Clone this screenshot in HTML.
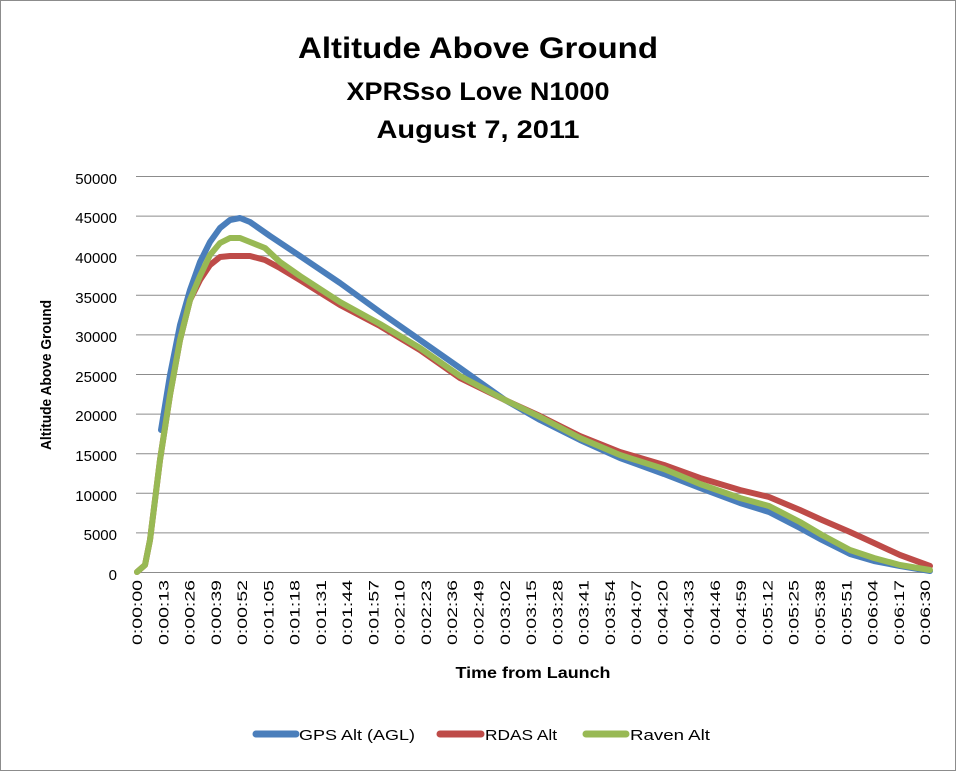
<!DOCTYPE html>
<html><head><meta charset="utf-8"><style>body{margin:0;background:#fff}svg{display:block}text{font-family:"Liberation Sans",sans-serif;fill:#000}</style></head><body>
<svg width="958" height="773" viewBox="0 0 958 773" xmlns="http://www.w3.org/2000/svg">
<rect x="0.5" y="0.5" width="955" height="770" fill="#fff" stroke="#8c8c8c"/>
<text x="478" y="58" font-size="30" font-weight="bold" text-anchor="middle" textLength="360" lengthAdjust="spacingAndGlyphs">Altitude Above Ground</text>
<text x="478" y="100" font-size="25" font-weight="bold" text-anchor="middle" textLength="263" lengthAdjust="spacingAndGlyphs">XPRSso Love N1000</text>
<text x="478" y="138" font-size="25" font-weight="bold" text-anchor="middle" textLength="203" lengthAdjust="spacingAndGlyphs">August 7, 2011</text>
<g stroke="#8c8c8c" stroke-width="1">
<line x1="136" y1="176.5" x2="929" y2="176.5"/><line x1="136" y1="216.1" x2="929" y2="216.1"/><line x1="136" y1="255.7" x2="929" y2="255.7"/><line x1="136" y1="295.3" x2="929" y2="295.3"/><line x1="136" y1="334.9" x2="929" y2="334.9"/><line x1="136" y1="374.5" x2="929" y2="374.5"/><line x1="136" y1="414.1" x2="929" y2="414.1"/><line x1="136" y1="453.7" x2="929" y2="453.7"/><line x1="136" y1="493.3" x2="929" y2="493.3"/><line x1="136" y1="532.9" x2="929" y2="532.9"/><line x1="136" y1="572.5" x2="929" y2="572.5"/>
</g>
<g font-size="15" text-anchor="end">
<text x="117" y="184">50000</text><text x="117" y="223">45000</text><text x="117" y="263">40000</text><text x="117" y="303">35000</text><text x="117" y="342">30000</text><text x="117" y="382">25000</text><text x="117" y="421">20000</text><text x="117" y="461">15000</text><text x="117" y="501">10000</text><text x="117" y="540">5000</text><text x="117" y="580">0</text>
</g>
<text transform="translate(51,375) rotate(-90)" font-size="15" font-weight="bold" text-anchor="middle" textLength="150" lengthAdjust="spacingAndGlyphs">Altitude Above Ground</text>
<g font-size="14" text-anchor="end">
<text transform="translate(142,580) rotate(-90)" textLength="65" lengthAdjust="spacingAndGlyphs">0:00:00</text>
<text transform="translate(168.3,580) rotate(-90)" textLength="65" lengthAdjust="spacingAndGlyphs">0:00:13</text>
<text transform="translate(194.5,580) rotate(-90)" textLength="65" lengthAdjust="spacingAndGlyphs">0:00:26</text>
<text transform="translate(220.8,580) rotate(-90)" textLength="65" lengthAdjust="spacingAndGlyphs">0:00:39</text>
<text transform="translate(247.1,580) rotate(-90)" textLength="65" lengthAdjust="spacingAndGlyphs">0:00:52</text>
<text transform="translate(273.4,580) rotate(-90)" textLength="65" lengthAdjust="spacingAndGlyphs">0:01:05</text>
<text transform="translate(299.6,580) rotate(-90)" textLength="65" lengthAdjust="spacingAndGlyphs">0:01:18</text>
<text transform="translate(325.9,580) rotate(-90)" textLength="65" lengthAdjust="spacingAndGlyphs">0:01:31</text>
<text transform="translate(352.2,580) rotate(-90)" textLength="65" lengthAdjust="spacingAndGlyphs">0:01:44</text>
<text transform="translate(378.4,580) rotate(-90)" textLength="65" lengthAdjust="spacingAndGlyphs">0:01:57</text>
<text transform="translate(404.7,580) rotate(-90)" textLength="65" lengthAdjust="spacingAndGlyphs">0:02:10</text>
<text transform="translate(431,580) rotate(-90)" textLength="65" lengthAdjust="spacingAndGlyphs">0:02:23</text>
<text transform="translate(457.2,580) rotate(-90)" textLength="65" lengthAdjust="spacingAndGlyphs">0:02:36</text>
<text transform="translate(483.5,580) rotate(-90)" textLength="65" lengthAdjust="spacingAndGlyphs">0:02:49</text>
<text transform="translate(509.8,580) rotate(-90)" textLength="65" lengthAdjust="spacingAndGlyphs">0:03:02</text>
<text transform="translate(536,580) rotate(-90)" textLength="65" lengthAdjust="spacingAndGlyphs">0:03:15</text>
<text transform="translate(562.3,580) rotate(-90)" textLength="65" lengthAdjust="spacingAndGlyphs">0:03:28</text>
<text transform="translate(588.6,580) rotate(-90)" textLength="65" lengthAdjust="spacingAndGlyphs">0:03:41</text>
<text transform="translate(614.9,580) rotate(-90)" textLength="65" lengthAdjust="spacingAndGlyphs">0:03:54</text>
<text transform="translate(641.1,580) rotate(-90)" textLength="65" lengthAdjust="spacingAndGlyphs">0:04:07</text>
<text transform="translate(667.4,580) rotate(-90)" textLength="65" lengthAdjust="spacingAndGlyphs">0:04:20</text>
<text transform="translate(693.7,580) rotate(-90)" textLength="65" lengthAdjust="spacingAndGlyphs">0:04:33</text>
<text transform="translate(719.9,580) rotate(-90)" textLength="65" lengthAdjust="spacingAndGlyphs">0:04:46</text>
<text transform="translate(746.2,580) rotate(-90)" textLength="65" lengthAdjust="spacingAndGlyphs">0:04:59</text>
<text transform="translate(772.5,580) rotate(-90)" textLength="65" lengthAdjust="spacingAndGlyphs">0:05:12</text>
<text transform="translate(798.7,580) rotate(-90)" textLength="65" lengthAdjust="spacingAndGlyphs">0:05:25</text>
<text transform="translate(825,580) rotate(-90)" textLength="65" lengthAdjust="spacingAndGlyphs">0:05:38</text>
<text transform="translate(851.3,580) rotate(-90)" textLength="65" lengthAdjust="spacingAndGlyphs">0:05:51</text>
<text transform="translate(877.6,580) rotate(-90)" textLength="65" lengthAdjust="spacingAndGlyphs">0:06:04</text>
<text transform="translate(903.8,580) rotate(-90)" textLength="65" lengthAdjust="spacingAndGlyphs">0:06:17</text>
<text transform="translate(930.1,580) rotate(-90)" textLength="65" lengthAdjust="spacingAndGlyphs">0:06:30</text>
</g>
<text x="533" y="678" font-size="16" font-weight="bold" text-anchor="middle" textLength="155" lengthAdjust="spacingAndGlyphs">Time from Launch</text>
<g fill="none" stroke-width="6" stroke-linecap="round" stroke-linejoin="round">
<polyline stroke="#4a7ebb" points="161,430 170,375 180,325 190,290 200,262 210,242 220,228 230,220 240,218 250,222 270,236 300,256 340,283 380,312 420,340 460,368 505,400 540,420 580,440 620,458 664,474 700,488 740,503 769,512 800,528 822,540 850,554 874,561 900,566 930,571"/>
<polyline stroke="#be4b48" points="137,572 145,565 150,540 160,460 170,395 180,340 190,300 200,280 210,265 220,257 230,256 250,256 265,260 280,268 300,280 340,305 380,326 420,350 460,378 505,400 540,416 580,436 620,452 664,465 700,478 740,490 769,497 800,510 822,520 850,532 874,543 900,555 930,566"/>
<polyline stroke="#98b954" points="137,572 145,565 150,540 160,460 170,395 180,340 190,300 200,276 210,255 220,243 230,238 240,238 250,242 265,248 280,262 300,276 340,302 380,324 420,348 460,376 505,400 540,417 580,438 620,455 664,469 700,484 740,498 769,506 800,522 822,535 850,550 874,558 900,565 930,570"/>
</g>
<g stroke-width="7" stroke-linecap="round">
<line x1="256" y1="734" x2="296" y2="734" stroke="#4a7ebb"/>
<line x1="440" y1="734" x2="481" y2="734" stroke="#be4b48"/>
<line x1="586" y1="734" x2="626" y2="734" stroke="#98b954"/>
</g>
<g font-size="15">
<text x="299" y="740" textLength="116" lengthAdjust="spacingAndGlyphs">GPS Alt (AGL)</text>
<text x="485" y="740" textLength="72" lengthAdjust="spacingAndGlyphs">RDAS Alt</text>
<text x="630" y="740" textLength="80" lengthAdjust="spacingAndGlyphs">Raven Alt</text>
</g>
</svg>
</body></html>
